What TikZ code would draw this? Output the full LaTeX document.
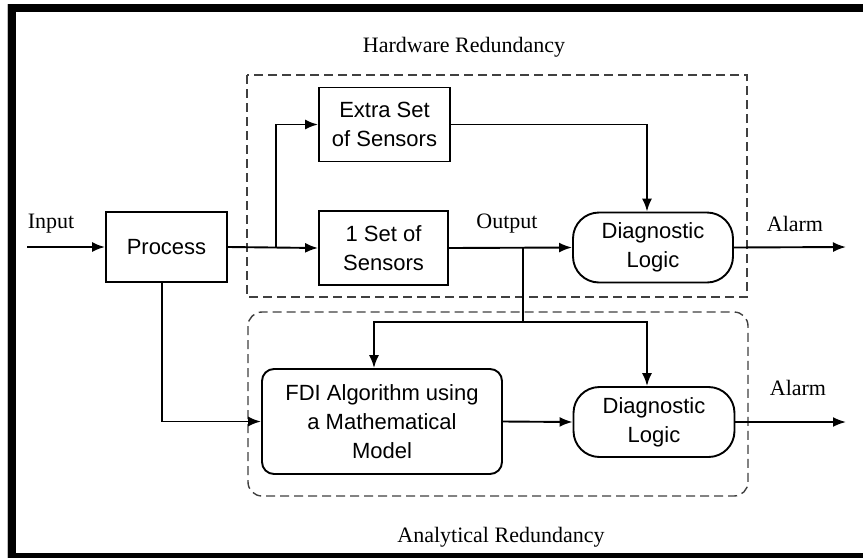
\documentclass[tikz,border=0pt]{standalone}
\usepackage{fontspec}
\setmainfont{Liberation Serif}
\newfontfamily\boxfont{Liberation Sans}
\usetikzlibrary{arrows.meta}

\tikzset{
  blockbox/.style={draw, line width=1.9pt, align=center, inner sep=0pt,
    font=\boxfont\fontsize{22}{29}\selectfont},
  roundbox/.style={blockbox, rounded corners=12pt},
  pillbox/.style={blockbox, rounded corners=26pt},
  groupbox/.style={draw, line width=1.4pt, dash pattern=on 9pt off 5pt, black!75},
  flow/.style={line width=1.9pt, -{Latex[length=13pt,width=10pt]}},
  wire/.style={line width=1.9pt},
  caption/.style={font=\fontsize{22}{24}\selectfont, inner sep=0pt}
}

\begin{document}
\begin{tikzpicture}[x=1pt, y=-1pt]
\useasboundingbox (0,0) rectangle (863,558);
% frame
\fill[white] (0,0) rectangle (863,558);
\fill[black] (8,4) rectangle (16,558);
\fill[black] (8,4) rectangle (863,12);
\fill[black] (8,553) rectangle (863,558);
\draw[black!25, line width=0.8pt] (7,4) -- (7,558);

% group outlines
\draw[groupbox] (247,75) rectangle (747,297);
\draw[groupbox, rounded corners=14pt] (248,312) rectangle (748,496);
\node[caption] (hwcap) at (464,47) {Hardware Redundancy};
\node[caption] (ancap) at (501,537) {Analytical Redundancy};

% blocks
\node[blockbox, minimum width=121pt, minimum height=70pt] (proc) at (166.5,247) {Process};
\node[blockbox, minimum width=131pt, minimum height=74pt] (extra) at (384.5,124.5) {Extra Set\\of Sensors};
\node[blockbox, minimum width=129pt, minimum height=74pt] (oneset) at (383.5,248) {1 Set of\\Sensors};
\node[pillbox, minimum width=160pt, minimum height=70pt] (diagA) at (653,247.5) {Diagnostic\\Logic};
\node[roundbox, minimum width=240pt, minimum height=105pt] (fdi) at (382,421.5) {FDI Algorithm using\\a Mathematical\\Model};
\node[pillbox, minimum width=161pt, minimum height=70pt] (diagB) at (654,422) {Diagnostic\\Logic};

% signal labels
\node[caption] (lin) at (51,224) {Input};
\node[caption] (lout) at (507,224) {Output};
\node[caption] (alA) at (795,224) {Alarm};
\node[caption] (alB) at (798,388) {Alarm};

% free ends and junctions
\coordinate (src) at (27,247);
\coordinate (endA) at (846,247);
\coordinate (endB) at (846,422);
\coordinate (split) at (276,247);
\coordinate (tap) at (523,247);
\coordinate (tapdown) at (523,322);
\coordinate (fdiin) at (374,322);
\coordinate (diagBin) at (647,322);
\coordinate (procdown) at (162,282);

% connectors
\draw[flow] (src) -- (proc.west);
\draw[flow] (proc.east) -- (oneset.west);
\draw[flow] (split) |- (extra.west);
\draw[flow] (extra.east) -| ([xshift=-6pt]diagA.north);
\draw[flow] (oneset.east) -- (diagA.west);
\draw[flow] (diagA.east) -- (endA);
\draw[wire] (tap) -- (tapdown);
\draw[flow] (tapdown) -- (fdiin) -- ([xshift=-8pt]fdi.north);
\draw[flow] (tapdown) -- (diagBin) -- ([xshift=-7pt]diagB.north);
\draw[flow] (procdown) |- (fdi.west);
\draw[flow] (fdi.east) -- (diagB.west);
\draw[flow] (diagB.east) -- (endB);
\end{tikzpicture}
\end{document}
